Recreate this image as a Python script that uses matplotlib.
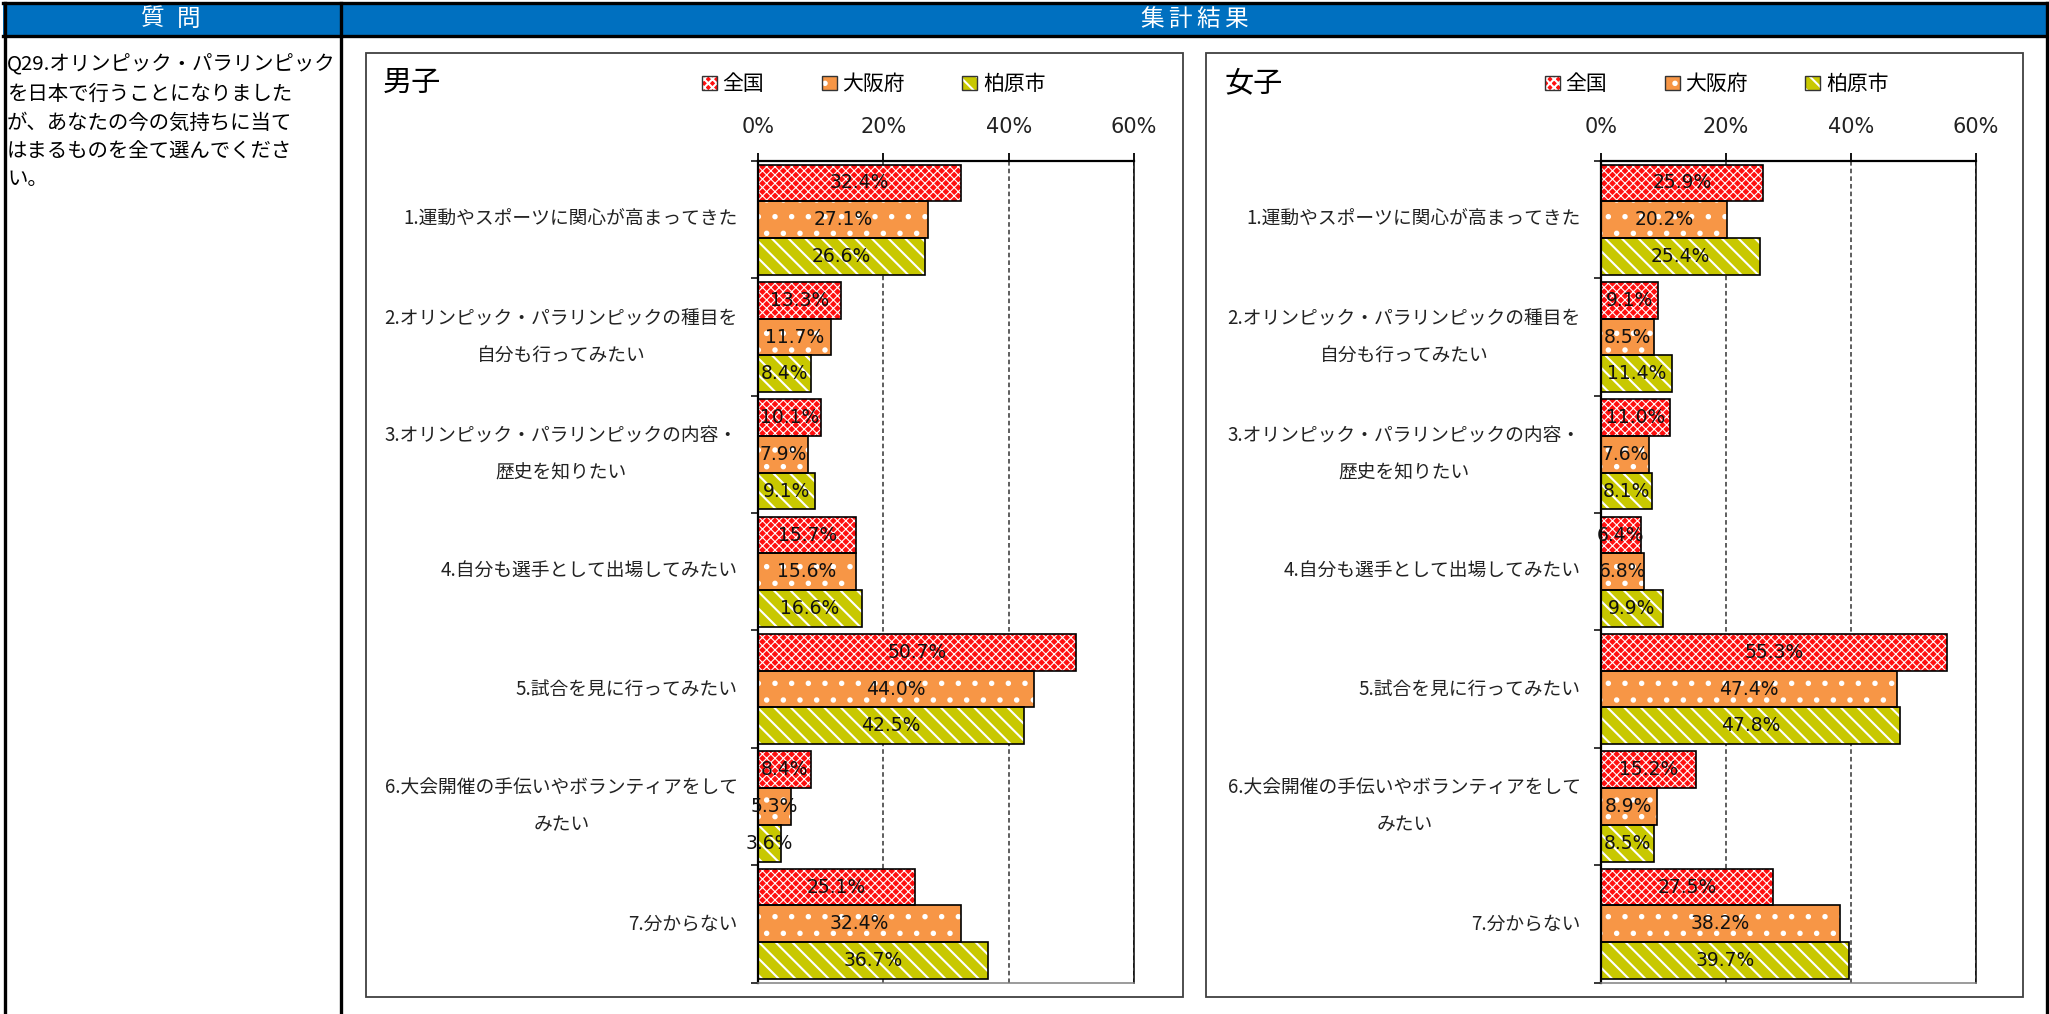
import matplotlib
matplotlib.use("Agg")
import matplotlib.pyplot as plt
from matplotlib.patches import Patch, Rectangle
from matplotlib.lines import Line2D
from matplotlib.legend_handler import HandlerTuple
import numpy as np

plt.rcParams['font.family'] = ['Noto Sans CJK JP', 'DejaVu Sans']
plt.rcParams['hatch.linewidth'] = 1.5

# --- data ---
categories = [
    "1.運動やスポーツに関心が高まってきた",
    "2.オリンピック・パラリンピックの種目を\n自分も行ってみたい",
    "3.オリンピック・パラリンピックの内容・\n歴史を知りたい",
    "4.自分も選手として出場してみたい",
    "5.試合を見に行ってみたい",
    "6.大会開催の手伝いやボランティアをして\nみたい",
    "7.分からない",
]
series_names = ["全国", "大阪府", "柏原市"]

boys_national = [32.4, 13.3, 10.1, 15.7, 50.7, 8.4, 25.1]
boys_osaka = [27.1, 11.7, 7.9, 15.6, 44.0, 5.3, 32.4]
boys_kashiwara = [26.6, 8.4, 9.1, 16.6, 42.5, 3.6, 36.7]

girls_national = [25.9, 9.1, 11.0, 6.4, 55.3, 15.2, 27.5]
girls_osaka = [20.2, 8.5, 7.6, 6.8, 47.4, 8.9, 38.2]
girls_kashiwara = [25.4, 11.4, 8.1, 9.9, 47.8, 8.5, 39.7]

x_ticks = [0, 20, 40, 60]
x_ticklabels = ["0%", "20%", "40%", "60%"]

question_lines = [
    "Q29.オリンピック・パラリンピック",
    "を日本で行うことになりました",
    "が、あなたの今の気持ちに当て",
    "はまるものを全て選んでくださ",
    "い。",
]

# styles
face_colors = ["#FF1010", "#F79646", "#C8C800"]
hatches = ["xxxx", ".", "\\\\"]
hatch_lws = [0.8, 1.5, 1.5]

W, H = 2049, 1014
fig = plt.figure(figsize=(W / 100, H / 100), dpi=100)


def fx(x):
    return x / W


def fy(y):
    return 1 - y / H


# --- table frame ---
fig.add_artist(Rectangle((fx(3), fy(35)), fx(2046) - fx(3), 32 / H,
                         facecolor="#0070C0", edgecolor="none"))
frame_lw = 2.4
for y in (3, 35.5):
    fig.add_artist(Line2D([fx(3), fx(2047)], [fy(y), fy(y)], color="black", lw=frame_lw))
for x in (4.5, 341, 2046.5):
    fig.add_artist(Line2D([fx(x), fx(x)], [fy(3), fy(1014)], color="black", lw=frame_lw))


def spaced_header(text, cx, pitch):
    n = len(text)
    for i, ch in enumerate(text):
        fig.text(fx(cx + (i - (n - 1) / 2) * pitch), fy(19), ch, color="white",
                 fontsize=17, ha="center", va="center")


spaced_header("質問", 171, 36)
spaced_header("集計結果", 1194, 28)

q_y = [65, 94, 123, 152, 180]
for line, yy in zip(question_lines, q_y):
    fig.text(fx(7), fy(yy), line, fontsize=14.7, ha="left", va="center", color="black")


def draw_panel(box, axes_box, legend_x, title_x, title, series):
    # outer box of the chart
    bx0, by0, bx1, by1 = box
    fig.add_artist(Rectangle((fx(bx0), fy(by1)), (bx1 - bx0) / W, (by1 - by0) / H,
                             facecolor="none", edgecolor="#404040", lw=1.3))
    fig.text(fx(title_x), fy(83), title, fontsize=21, ha="left", va="center")

    ax0, ay0, ax1, ay1 = axes_box
    ax = fig.add_axes([fx(ax0), fy(ay1), (ax1 - ax0) / W, (ay1 - ay0) / H])

    y = np.arange(len(categories))
    h = 0.313
    for k, vals in enumerate(series):
        pos = y + (k - 1) * h
        with plt.rc_context({"hatch.linewidth": hatch_lws[k]}):
            ax.barh(pos, vals, height=h, color=face_colors[k], hatch=hatches[k],
                    edgecolor="white", linewidth=0, zorder=2)
        ax.barh(pos, vals, height=h, fill=False, edgecolor="black", linewidth=1.2, zorder=3)
        for p, v in zip(pos, vals):
            ax.text(v / 2, p, f"{v:.1f}%", ha="center", va="center", fontsize=13.5,
                    family="DejaVu Sans", color="#111111", zorder=4)

    ax.set_xlim(0, 60)
    ax.set_ylim(len(categories) - 0.5, -0.5)
    ax.xaxis.tick_top()
    ax.set_xticks(x_ticks)
    ax.set_xticklabels(x_ticklabels, family="DejaVu Sans")
    ax.tick_params(axis="x", length=6, width=1.3, pad=11, labelsize=15, labelcolor="#222222")

    ax.set_yticks(y)
    ax.set_yticklabels(categories)
    ax.set_yticks(np.arange(-0.5, len(categories), 1), minor=True)
    ax.tick_params(axis="y", which="major", length=0, pad=14.5, labelsize=13.5, labelcolor="#222222")
    ax.tick_params(axis="y", which="minor", length=5, width=1.1)
    for lbl in ax.get_yticklabels():
        lbl.set_multialignment("center")
        lbl.set_verticalalignment("center")
        lbl.set_linespacing(1.97)

    ax.grid(axis="x", linestyle=(0, (3, 2)), color="#333333", lw=1.1)
    ax.set_axisbelow(True)
    ax.spines["top"].set_linewidth(1.6)
    ax.spines["left"].set_linewidth(1.6)
    ax.spines["right"].set_linewidth(1.1)
    ax.spines["bottom"].set_linewidth(1.1)
    ax.spines["bottom"].set_color("#808080")

    handles = []
    for k in range(3):
        with plt.rc_context({"hatch.linewidth": hatch_lws[k]}):
            fill = Patch(facecolor=face_colors[k], hatch=hatches[k], edgecolor="white", lw=0)
        handles.append((fill, Patch(fill=False, edgecolor="#333333", lw=1.0)))
    fig.legend(handles, series_names, handler_map={tuple: HandlerTuple(ndivide=1)},
               loc="center left", bbox_to_anchor=(fx(legend_x), fy(84)), ncol=3,
               frameon=False, fontsize=15, handlelength=0.72, handleheight=0.68,
               handletextpad=0.27, columnspacing=2.75, borderpad=0, borderaxespad=0)
    return ax


draw_panel((366, 53, 1183, 997), (758, 161, 1134, 982.5), 702, 383, "男子",
           [boys_national, boys_osaka, boys_kashiwara])
draw_panel((1206, 53, 2023, 997), (1601, 161, 1976, 982.5), 1545, 1225, "女子",
           [girls_national, girls_osaka, girls_kashiwara])

fig.savefig("out.png", dpi=100)
